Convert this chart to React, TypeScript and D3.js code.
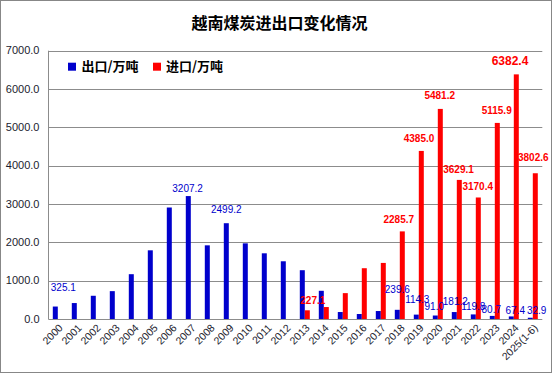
import React from 'react';
import * as d3 from 'd3';

const years = ['2000', '2001', '2002', '2003', '2004', '2005', '2006', '2007', '2008', '2009',
  '2010', '2011', '2012', '2013', '2014', '2015', '2016', '2017', '2018', '2019',
  '2020', '2021', '2022', '2023', '2024', '2025(1-6)'];

// 出口/万吨
const exportVals = [325.1, 416, 606, 727, 1169, 1792, 2909, 3207.2, 1922, 2499.2,
  1974, 1714, 1506, 1273, 736, 182, 130, 208, 239.6, 114.3,
  91.0, 181.2, 119.8, 80.7, 67.4, 32.9];

// 进口/万吨
const importVals = [null, null, null, null, null, null, null, null, null, null,
  null, null, null, 227.1, 312, 675, 1325, 1463, 2285.7, 4385.0,
  5481.2, 3629.1, 3170.4, 5115.9, 6382.4, 3802.6];

// labelled years, with the hand-dragged nudge [dx, dy] of each label from its bar top
const exportLabels: Record<string, number[]> = {
  '2000': [8, -19.5], '2007': [-0.7, -7.3], '2009': [0, -14], '2018': [0, -20], '2019': [1, -15],
  '2020': [-1, -9], '2021': [1, -11], '2022': [0, -8.4], '2023': [-1, -6], '2024': [4, -6.4], '2025(1-6)': [6.4, -7.4],
};
const importLabels: Record<string, number[]> = {
  '2013': [5.5, -9.6], '2018': [-3.5, -11.4], '2019': [-2.3, -12], '2020': [-0.6, -13.7], '2021': [-0.8, -10.7],
  '2022': [-0.6, -11], '2023': [-0.6, -12.3], '2024': [-6.3, -13.7], '2025(1-6)': [-2, -16],
};

const yTicks = [0, 1000, 2000, 3000, 4000, 5000, 6000, 7000];

const width = 556, height = 374;
const BLUE = '#0000CC', RED = '#FF0000', GRID = '#8c8c8c';
const numFont = '"Liberation Sans", Arial, sans-serif';
const cjkFont = '"Noto Sans CJK SC", sans-serif';

export default function App() {
  const x = d3.scaleBand().domain(years).range([48.3, 542.3]).paddingInner(0);
  const y = d3.scaleLinear().domain([0, 7000]).range([319, 50.7]);
  const barW = 5;
  const fmt = d3.format('.1f');
  const cx = (yr: string) => (x(yr) as number) + x.bandwidth() / 2;

  return (
    <svg width={width} height={height} style={{ position: 'absolute', left: 0, top: 0, background: '#fff' }}>
      <rect x={0.5} y={0.5} width={551} height={372} fill="#fff" stroke="#878787" />

      <text x={279.5} y={29} textAnchor="middle" fontFamily={cjkFont} fontWeight="bold" fontSize={16} fill="#000">
        越南煤炭进出口变化情况
      </text>

      {/* grid + y labels */}
      {yTicks.map(t => (
        <g key={t}>
          {t > 0 && <line x1={48.3} x2={542.3} y1={Math.round(y(t)) + 0.5} y2={Math.round(y(t)) + 0.5} stroke={GRID} />}
          <text x={39.5} y={y(t)} dy="0.32em" textAnchor="end" fontFamily={numFont} fontSize={11} fill="#1b1b2e">
            {fmt(t)}
          </text>
        </g>
      ))}
      <line x1={48.5} x2={48.5} y1={50.7} y2={319} stroke={GRID} />
      <line x1={48.3} x2={542.3} y1={319.5} y2={319.5} stroke={GRID} />

      {/* bars */}
      {years.map((yr, i) => (
        <g key={yr}>
          <rect x={cx(yr) - barW} y={y(exportVals[i])} width={barW} height={y(0) - y(exportVals[i])} fill={BLUE} />
          {importVals[i] != null && (
            <rect x={cx(yr)} y={y(importVals[i] as number)} width={barW} height={y(0) - y(importVals[i] as number)} fill={RED} />
          )}
        </g>
      ))}

      {/* value labels */}
      {years.map((yr, i) => exportLabels[yr] && (
        <text key={'e' + yr} x={cx(yr) - barW / 2 + exportLabels[yr][0]} y={y(exportVals[i]) + exportLabels[yr][1]}
          dy="0.35em" textAnchor="middle" fontFamily={numFont} fontSize={10} fill={BLUE}>
          {fmt(exportVals[i])}
        </text>
      ))}
      {years.map((yr, i) => importLabels[yr] && importVals[i] != null && (
        <text key={'i' + yr} x={cx(yr) + barW / 2 + importLabels[yr][0]} y={y(importVals[i] as number) + importLabels[yr][1]}
          dy="0.35em" textAnchor="middle" fontFamily={numFont} fontWeight="bold" fontSize={yr === '2024' ? 12 : 10} fill={RED}>
          {fmt(importVals[i] as number)}
        </text>
      ))}

      {/* x labels */}
      {years.map(yr => (
        <text key={'x' + yr} transform={`translate(${cx(yr) + 3},${326}) rotate(-45)`} textAnchor="end"
          dy="0.35em" fontFamily={numFont} fontSize={10.5} fill="#1b1b2e">
          {yr}
        </text>
      ))}

      {/* legend */}
      <rect x={68} y={62.7} width={8} height={8} fill={BLUE} />
      <text x={81.5} y={66.7} dy="0.36em" fontFamily={cjkFont} fontWeight="bold" fontSize={13} fill="#000">出口/万吨</text>
      <rect x={153} y={62.7} width={8} height={8} fill={RED} />
      <text x={166} y={66.7} dy="0.36em" fontFamily={cjkFont} fontWeight="bold" fontSize={13} fill="#000">进口/万吨</text>
    </svg>
  );
}
